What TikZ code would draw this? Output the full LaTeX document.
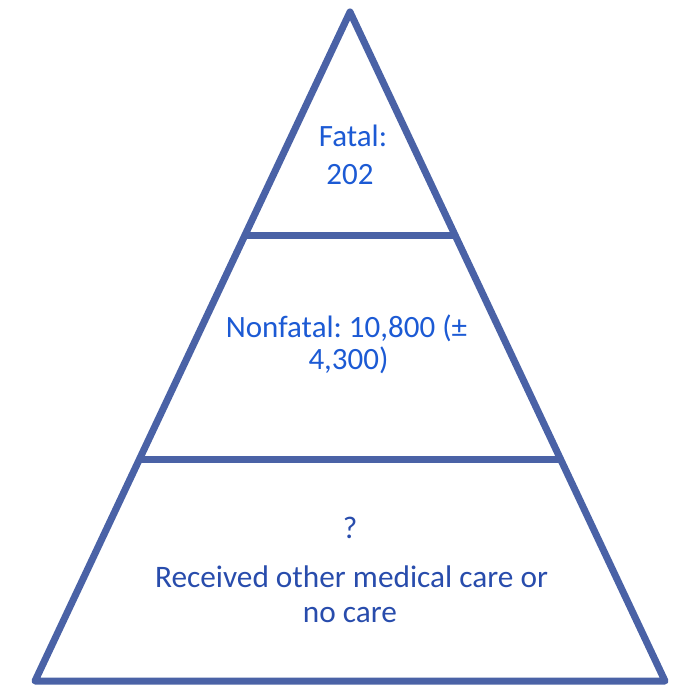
\documentclass[tikz,border=0pt]{standalone}
\usepackage{fontspec}
\setmainfont{Carlito}
\frenchspacing
\definecolor{edgeblue}{RGB}{74,98,166}
\definecolor{topblue}{RGB}{28,90,212}
\definecolor{lowblue}{RGB}{40,76,172}
\begin{document}
\begin{tikzpicture}[x=1pt,y=-1pt,
  edge/.style={draw=edgeblue,line width=7pt,line join=round,line cap=round},
  toptext/.style={anchor=base,inner sep=0pt,text=topblue,font=\fontsize{31}{37}\selectfont},
  lowtext/.style={anchor=base,inner sep=0pt,text=lowblue,font=\fontsize{31.3}{37}\selectfont}]
\useasboundingbox (0,0) rectangle (674,687);
\coordinate (apex) at (350,12);
\coordinate (bl) at (35,681);
\coordinate (br) at (665,681);
\coordinate (l1) at (245,235);
\coordinate (r1) at (455,235);
\coordinate (l2) at (140,459);
\coordinate (r2) at (560,459);
\draw[edge] (apex) -- (bl) -- (br) -- cycle;
\draw[edge,line cap=butt] (l1) -- (r1);
\draw[edge,line cap=butt] (l2) -- (r2);
\node[toptext] (fatal) at (353,147) {Fatal:};
\node[toptext] (fatalnum) at (350,184) {202};
\node[toptext] (nonfatal) at (346.5,337) {Nonfatal: 10,800 (±};
\node[toptext] (nonfatalnum) at (348.5,369) {4,300)};
\node[lowtext] (q) at (350,538) {?};
\node[lowtext] (other) at (351.5,587) {Received other medical care or};
\node[lowtext] (nocare) at (350,622) {no care};
\end{tikzpicture}
\end{document}
